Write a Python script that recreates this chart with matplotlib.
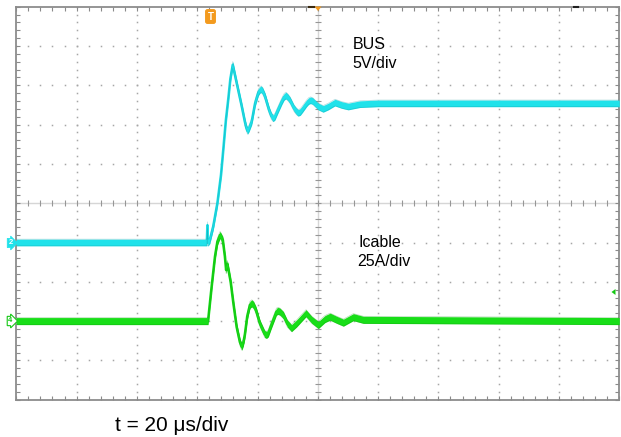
import matplotlib
matplotlib.use("Agg")
import matplotlib.pyplot as plt
import numpy as np

# ---------------- data ----------------
# BUS voltage (V) vs time (us), 5 V/div, ground marker at -1 div
bus_t_us = [-100, -36.8, -36.6, -36.5, -36.3, -35.8, -34.7, -33.3, -32.1, -31.3,
            -30.5, -29.7, -29.0, -28.2, -26.9, -25.2, -24.2, -23.7, -23.3, -22.8,
            -21.9, -20.8, -19.7, -19.2, -18.8, -18.3, -17.5, -16.2, -15.4, -14.8,
            -14.2, -13.4, -12.0, -11.2, -10.6, -10.0, -9.2, -7.9, -7.1, -6.5,
            -5.8, -5.0, -3.7, -3.0, -2.4, -1.7, -0.9, 0.2, 1.8, 3.5,
            5.7, 7.9, 10.1, 14.0, 20.0, 100]
bus_v = [0, 0, 2.2, 0, 0, 0.3, 2.0, 5.0, 8.6, 12.0,
         15.5, 18.2, 20.8, 22.6, 20.3, 17.3, 15.4, 14.6, 14.2, 14.5,
         15.4, 17.7, 19.1, 19.4, 19.5, 19.3, 18.6, 16.9, 16.1, 15.8,
         16.0, 16.7, 17.9, 18.5, 18.7, 18.5, 18.1, 17.1, 16.7, 16.5,
         16.6, 17.0, 17.7, 18.0, 18.1, 18.0, 17.7, 17.3, 17.0, 17.3,
         17.8, 17.5, 17.3, 17.6, 17.7, 17.7]

# Cable current (A) vs time (us), 25 A/div, ground marker at -3 div
icable_t_us = [-100, -36.4, -35.2, -34.1, -33.3, -32.4, -31.5, -30.8, -30.4, -30.0,
               -29.6, -28.9, -28.0, -26.9, -25.8, -25.2, -24.7, -24.2, -23.4, -22.5,
               -21.9, -21.3, -20.5, -19.2, -17.6, -17.0, -16.4, -15.6, -13.7, -13.1,
               -12.5, -11.4, -10.1, -8.7, -7.0, -3.9, -2.0, 0.2, 2.4, 4.1,
               6.3, 8.5, 11.8, 15.1, 100]
icable_a = [0, 0, 22, 41, 50.5, 54.8, 51.6, 41, 32.5, 36.3,
            32.5, 25, 11.5, -3.8, -13.5, -16.3, -13.8, -8.8, 3.0, 10.3,
            11.3, 10.3, 7.0, -1.5, -8.2, -8.8, -7.8, -3.5, 6.0, 6.5,
            5.9, 3.8, -1.5, -4.5, -1.5, 5.0, 0.8, -2.5, 1.3, 2.8,
            0.8, -1.0, 2.5, 0.8, 0]

bus_label = ["BUS", "5V/div"]
icable_label = ["Icable", "25A/div"]
time_label = "t = 20 \u03bcs/div"

BUS_V_PER_DIV, BUS_ZERO_DIV = 5.0, -1.0
I_A_PER_DIV, I_ZERO_DIV = 25.0, -3.0

# ---------------- figure ----------------
W, H = 621, 437
fig = plt.figure(figsize=(W / 100, H / 100), dpi=100)
fig.patch.set_facecolor("white")
L, R, T, B = 16.3, 619.3, 6.7, 399.7
ax = fig.add_axes([L / W, 1 - B / H, (R - L) / W, (B - T) / H])
ax.set_xlim(-100, 100)
ax.set_ylim(-5, 5)
ax.set_facecolor("white")

FONT = "Liberation Sans"

def fx(px):
    return px / W

def fy(py):
    return 1 - py / H

# dotted graticule
minor_x = np.arange(-100, 100.01, 4)
minor_y = np.arange(-5, 5.001, 0.2)
for xm in np.arange(-80, 81, 20):
    if xm == 0:
        continue
    ax.plot(np.full_like(minor_y, xm), minor_y, ls="none", marker="s", ms=1.1,
            mew=0, color="#a6a6a6", zorder=1)
for ym in range(-4, 5):
    if ym == 0:
        continue
    ax.plot(minor_x, np.full_like(minor_x, ym), ls="none", marker="s", ms=1.1,
            mew=0, color="#a6a6a6", zorder=1)

# center cross with ticks
ax.axhline(0, color="#d6d6d6", lw=1.0, zorder=1)
ax.axvline(0, color="#d6d6d6", lw=1.0, zorder=1)
ax.plot(minor_x, np.zeros_like(minor_x), ls="none", marker="|", ms=4.0, mew=0.8,
        color="#969696", zorder=1)
ax.plot(np.zeros_like(minor_y), minor_y, ls="none", marker="_", ms=4.0, mew=0.8,
        color="#969696", zorder=1)

# frame ticks
ax.set_xticks(minor_x)
ax.set_yticks(minor_y)
ax.tick_params(which="both", direction="in", length=3, width=0.8, color="#8a8a8a",
               top=True, right=True, labelbottom=False, labelleft=False)
for s in ax.spines.values():
    s.set_color("#8c8c8c")
    s.set_linewidth(1.3)

# traces
def draw_trace(t, y, half, color, edge):
    t = np.asarray(t, float)
    y = np.asarray(y, float)
    ax.fill_between(t, y - half, y + half, color=color, lw=0, zorder=3)
    ax.plot(t, y, color=color, lw=1.9, zorder=3, solid_joinstyle="round")
    ax.plot(t, y + half, color=edge, lw=0.5, alpha=0.3, zorder=3)
    ax.plot(t, y - half, color=edge, lw=0.5, alpha=0.3, zorder=3)

bus_div = np.asarray(bus_v) / BUS_V_PER_DIV + BUS_ZERO_DIV
i_div = np.asarray(icable_a) / I_A_PER_DIV + I_ZERO_DIV
draw_trace(bus_t_us, bus_div, 0.085, "#20e2ea", "#0b8c94")
draw_trace(icable_t_us, i_div, 0.09, "#18de18", "#0a8a0a")

# channel labels
fig.text(fx(353), fy(49), bus_label[0], fontsize=11.5, family=FONT, va="baseline")
fig.text(fx(352.5), fy(68), bus_label[1], fontsize=11.5, family=FONT, va="baseline")
fig.text(fx(358), fy(247), icable_label[0], fontsize=11.5, family=FONT, va="baseline")
fig.text(fx(357.5), fy(266.5), icable_label[1], fontsize=11.5, family=FONT, va="baseline")
fig.text(fx(115), fy(431), time_label, fontsize=15, family=FONT, va="baseline")

# scope markers
fig.text(fx(10.5), fy(243), "2", fontsize=5.5, family=FONT, color="white",
         ha="center", va="center", fontweight="bold",
         bbox=dict(boxstyle="rarrow,pad=0.15", fc="#20e2ea", ec="#20e2ea", lw=0.5))
fig.text(fx(10.5), fy(321), "4", fontsize=5.5, family=FONT, color="#16c816",
         ha="center", va="center", fontweight="bold",
         bbox=dict(boxstyle="rarrow,pad=0.15", fc="white", ec="#16c816", lw=0.8))
fig.text(fx(210.5), fy(16.5), "T", fontsize=7, family=FONT, color="white",
         ha="center", va="center", fontweight="bold",
         bbox=dict(boxstyle="round,pad=0.18", fc="#f39a1e", ec="#f39a1e"))
tri = plt.Polygon([[fx(314.5), fy(6.5)], [fx(321.5), fy(6.5)], [fx(318), fy(11)]],
                  closed=True, transform=fig.transFigure, fc="#f39a1e", ec="none")
fig.patches.append(tri)
fig.add_artist(plt.Line2D([fx(309), fx(314)], [fy(7), fy(7)], color="#3a2a10", lw=1.5))
fig.add_artist(plt.Line2D([fx(574), fx(578)], [fy(7), fy(7)], color="#202020", lw=1.5))
tri2 = plt.Polygon([[fx(611.5), fy(292)], [fx(615.5), fy(289)], [fx(615.5), fy(295)]],
                   closed=True, transform=fig.transFigure, fc="#16c816", ec="none")
fig.patches.append(tri2)

fig.savefig("out.png", dpi=100, facecolor="white")
